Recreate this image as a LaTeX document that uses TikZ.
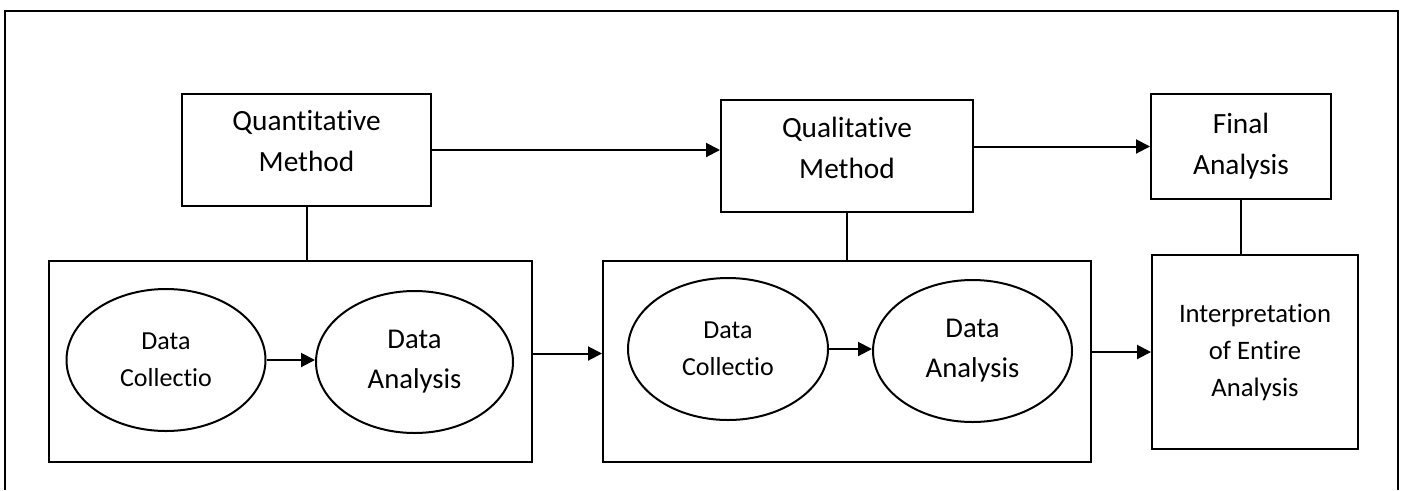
\documentclass[tikz,border=0pt]{standalone}
\usepackage{fontspec}
\setmainfont{Carlito}[Ligatures={NoCommon}]
\usetikzlibrary{arrows.meta,shapes.geometric}

\tikzset{every picture/.style={line width=1.5pt}}
\tikzset{
  methodbox/.style={draw, rectangle, inner sep=0pt, align=center, font=\fontsize{22}{30.75}\selectfont},
  stagebox/.style={draw, rectangle, inner sep=0pt},
  stepoval/.style={draw, ellipse, inner sep=0pt, align=center},
  flow/.style={-{Triangle[length=10.5pt,width=10.5pt]}},
}

\begin{document}
\begin{tikzpicture}[x=0.75pt,y=0.75pt,yscale=-1,xscale=1]
\useasboundingbox (0,0) rectangle (1402,490);

%Shape: Frame (open at the bottom)
\draw (5,490) -- (5,11) -- (1398,11) -- (1398,490);

%Shape: Rectangle (methods)
\node [methodbox, text depth=13pt, minimum width=249*0.75pt, minimum height=112*0.75pt] (quant) at (306.5,150) {Quantitative\\Method};
\node [methodbox, text depth=13pt, minimum width=252*0.75pt, minimum height=112*0.75pt] (qual) at (847,156) {Qualitative\\Method};
\node [methodbox, minimum width=180*0.75pt, minimum height=105*0.75pt] (final) at (1241,146.5) {Final\\Analysis};

%Shape: Rectangle (stages)
\node [stagebox, minimum width=483*0.75pt, minimum height=201*0.75pt] (stageA) at (290.5,361.5) {};
\node [stagebox, minimum width=488*0.75pt, minimum height=201*0.75pt] (stageB) at (847,361.5) {};
\node [stagebox, align=center, minimum width=206*0.75pt, minimum height=194*0.75pt,
       font=\fontsize{20}{27.75}\selectfont] (interp) at (1255,352) {Interpretation\\of Entire\\Analysis};

%Shape: Ellipse
\node [stepoval, minimum width=199*0.75pt, minimum height=142*0.75pt, font=\fontsize{19.5}{27.5}\selectfont] (collA) at (166,360) {Data\\Collectio};
\node [stepoval, minimum width=197*0.75pt, minimum height=142*0.75pt, font=\fontsize{21.5}{30}\selectfont] (anaA) at (414.5,362) {Data\\Analysis};
\node [stepoval, minimum width=200*0.75pt, minimum height=142*0.75pt, font=\fontsize{19.5}{27.5}\selectfont] (collB) at (728,349) {Data\\Collectio};
\node [stepoval, minimum width=199*0.75pt, minimum height=142*0.75pt, font=\fontsize{21.5}{30}\selectfont] (anaB) at (972.5,351) {Data\\Analysis};

%Straight Lines
\draw [flow] (quant.east) -- (quant.east -| qual.west);
\draw [flow] (final.west -| qual.east) -- (final.west);
\draw (quant.south) -- (quant.south |- stageA.north);
\draw (qual.south) -- (qual.south |- stageB.north);
\draw (final.south) -- (final.south |- interp.north);
\draw [flow] (collA) -- (collA -| anaA.west);
\draw [flow] (collB) -- (collB -| anaB.west);
\draw [flow] ([yshift=-6pt]stageA.east) -- ([yshift=-6pt]stageB.west);
\draw [flow] (stageB.east |- interp.west) -- (interp.west);

\end{tikzpicture}
\end{document}
